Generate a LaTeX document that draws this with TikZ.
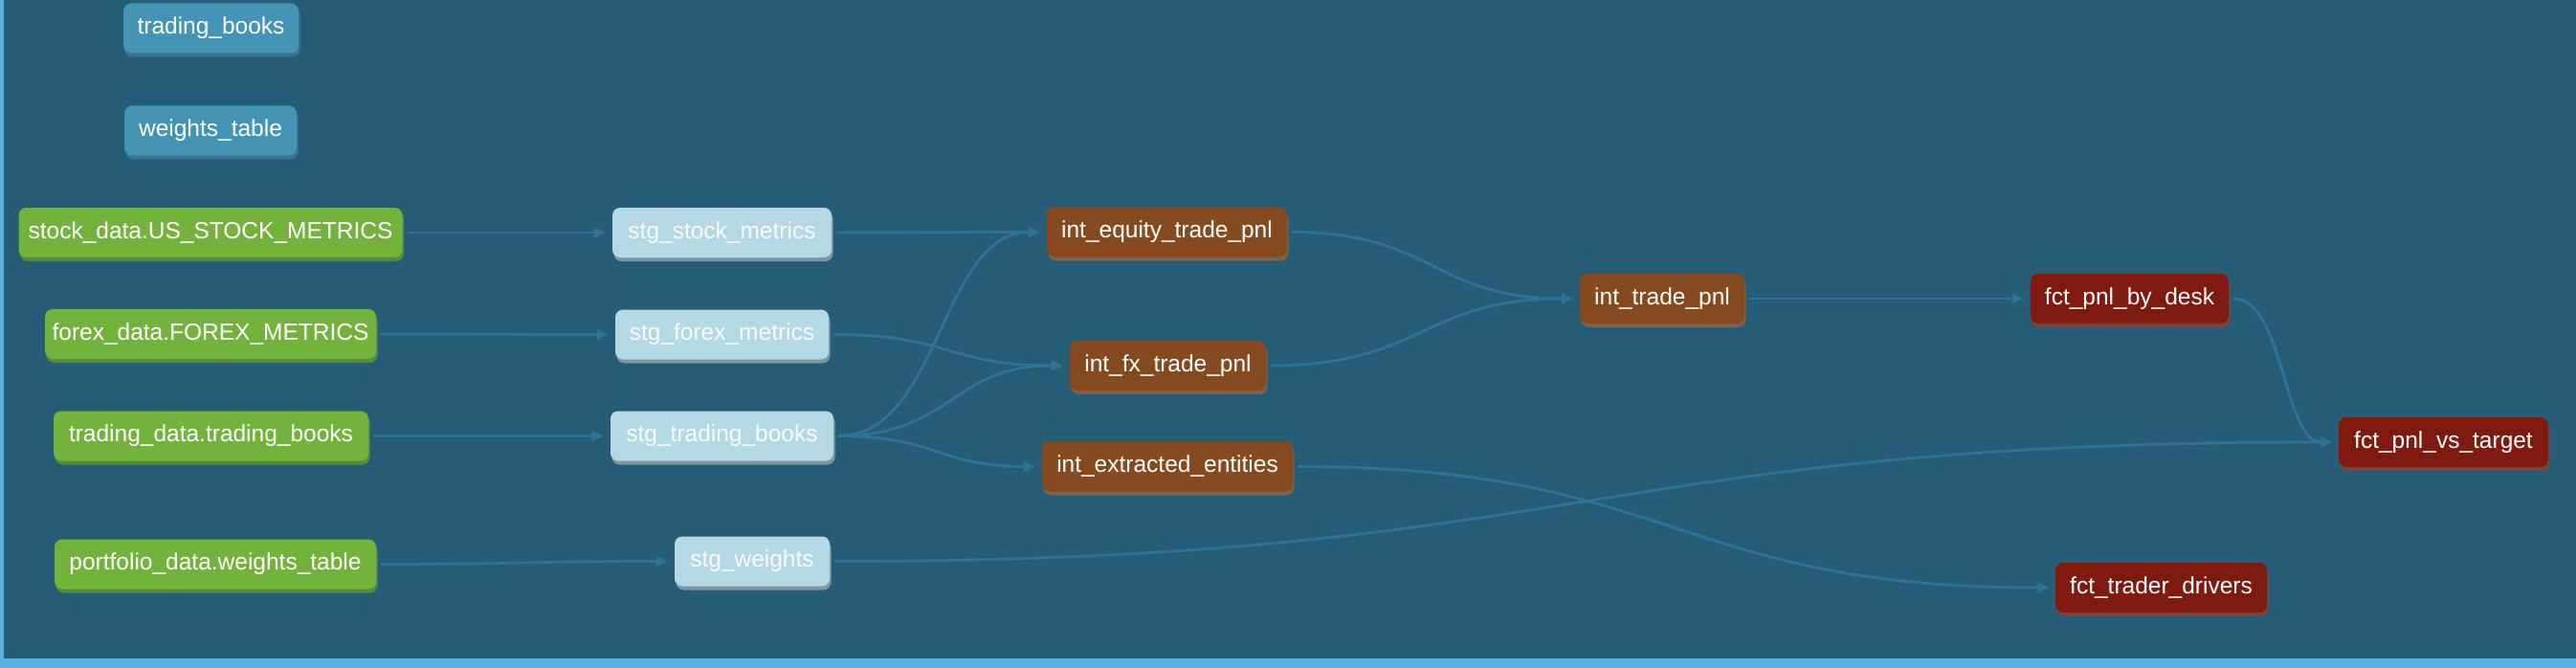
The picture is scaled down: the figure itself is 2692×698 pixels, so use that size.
\documentclass[tikz,border=0pt]{standalone}
\usepackage{fontspec}
\setmainfont{Liberation Sans}
\usetikzlibrary{arrows.meta,calc,shadows}
\definecolor{bgc}{HTML}{275C76}
\definecolor{stripc}{HTML}{5AAEE2}
\definecolor{edgec}{HTML}{2F7397}
\definecolor{srcc}{HTML}{4394B5}
\definecolor{greenc}{HTML}{73B33D}
\definecolor{stgc}{HTML}{B5D8E5}
\definecolor{intc}{HTML}{854A20}
\definecolor{fctc}{HTML}{7F1A10}
\tikzset{
  box/.style={rounded corners=8pt, minimum height=52pt, inner xsep=0pt, inner ysep=0pt,
    text=white, font=\fontsize{24.5}{28}\selectfont, anchor=center},
  srcbox/.style={box, fill=srcc, drop shadow={shadow xshift=1.5pt, shadow yshift=-4pt, fill=srcc!80!black, opacity=1}},
  greenbox/.style={box, fill=greenc, drop shadow={shadow xshift=1.5pt, shadow yshift=-4pt, fill=greenc!78!black, opacity=1}},
  stgbox/.style={box, fill=stgc, text=white!97!gray, drop shadow={shadow xshift=1.5pt, shadow yshift=-4pt, fill=stgc!70!black, opacity=1}},
  intbox/.style={box, fill=intc, drop shadow={shadow xshift=1.5pt, shadow yshift=-4pt, fill=intc!60!gray, opacity=1}},
  fctbox/.style={box, fill=fctc, drop shadow={shadow xshift=1.5pt, shadow yshift=-4pt, fill=fctc!60!gray, opacity=1}},
  edge/.style={draw=edgec, line width=2.8pt, -{Triangle[length=12pt,width=11pt]}, shorten <=5pt, shorten >=7pt}
}
\newcommand{\dagedge}[2]{\draw[edge] (#1.east) let \p1=(#1.east), \p2=(#2.west) in
  .. controls ({(\x1+\x2)/2},\y1) and ({(\x1+\x2)/2},\y2) .. (\p2);}
\begin{document}
\begin{tikzpicture}[x=1pt,y=-1pt]
\useasboundingbox (0,0) rectangle (2692,698);
\fill[bgc] (0,0) rectangle (2692,698);
\fill[stripc] (0,0) rectangle (4,698);
\fill[stripc] (0,688) rectangle (2692,698);

% sources
\node[srcbox, minimum width=183pt] (tb) at (220.5,29.5) {trading\_books};
\node[srcbox, minimum width=180pt] (wt) at (220,136.5) {weights\_table};
\node[greenbox, minimum width=401pt] (sd) at (220,243) {stock\_data.US\_STOCK\_METRICS};
\node[greenbox, minimum width=346pt] (fd) at (220,349) {forex\_data.FOREX\_METRICS};
\node[greenbox, minimum width=329pt] (td) at (220.5,455.5) {trading\_data.trading\_books};
\node[greenbox, minimum width=336pt] (pd) at (225,589.5) {portfolio\_data.weights\_table};

% staging
\node[stgbox, minimum width=229pt] (ss) at (754.5,243) {stg\_stock\_metrics};
\node[stgbox, minimum width=223pt] (sf) at (754.5,349.5) {stg\_forex\_metrics};
\node[stgbox, minimum width=233pt] (st) at (754.5,455.5) {stg\_trading\_books};
\node[stgbox, minimum width=162pt] (sw) at (786,586.5) {stg\_weights};

% intermediate
\node[intbox, minimum width=251pt] (ie) at (1219.5,242.5) {int\_equity\_trade\_pnl};
\node[intbox, minimum width=205pt] (ifx) at (1220.5,382) {int\_fx\_trade\_pnl};
\node[intbox, minimum width=262pt] (iex) at (1220,487.5) {int\_extracted\_entities};
\node[intbox, minimum width=172pt] (itp) at (1737,312) {int\_trade\_pnl};

% facts
\node[fctbox, minimum width=207pt] (fdk) at (2225.5,312) {fct\_pnl\_by\_desk};
\node[fctbox, minimum width=219pt] (fvt) at (2553.5,462) {fct\_pnl\_vs\_target};
\node[fctbox, minimum width=221pt] (ftd) at (2258.5,614) {fct\_trader\_drivers};

% edges
\dagedge{sd}{ss}
\dagedge{fd}{sf}
\dagedge{td}{st}
\dagedge{pd}{sw}
\dagedge{ss}{ie}
\dagedge{sf}{ifx}
\dagedge{st}{ie}
\dagedge{st}{ifx}
\dagedge{st}{iex}
\dagedge{ie}{itp}
\dagedge{ifx}{itp}
\dagedge{itp}{fdk}
\dagedge{fdk}{fvt}
\dagedge{sw}{fvt}
\dagedge{iex}{ftd}
\end{tikzpicture}
\end{document}
